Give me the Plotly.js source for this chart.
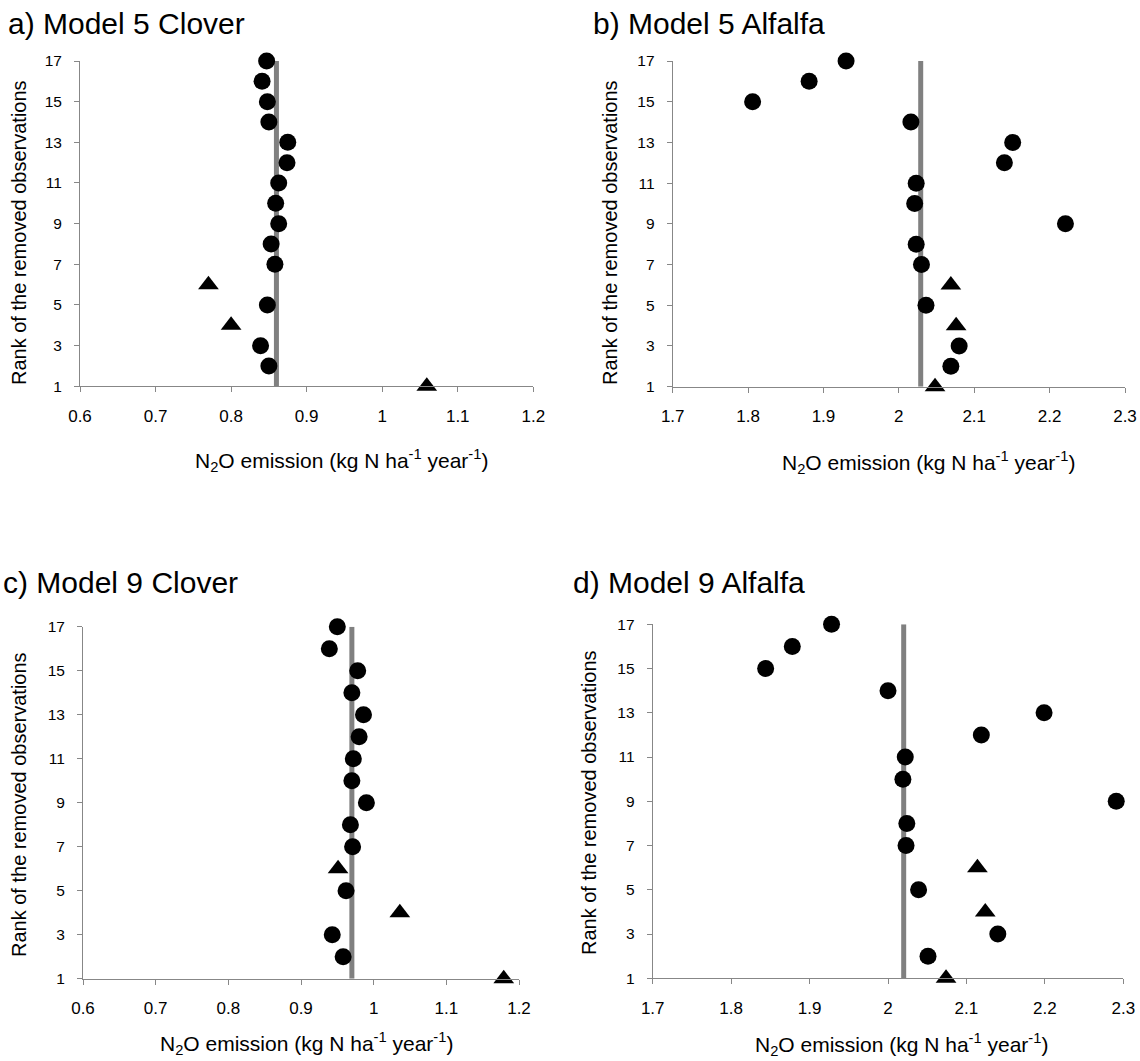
<!DOCTYPE html>
<html>
<head>
<meta charset="utf-8">
<script src="https://cdn.plot.ly/plotly-3.0.1.min.js"></script>
<style>html,body{margin:0;padding:0;background:#fff;}#chart{width:1140px;height:1061px;}</style>
</head>
<body>
<div id="chart"></div>
<script>
// ---- data ----
const ranks = [1,2,3,4,5,6,7,8,9,10,11,12,13,14,15,16,17];
const triangleRanks = [1,4,6];

const m5Clover  = [1.059,0.850,0.839,0.800,0.848,0.770,0.858,0.853,0.863,0.859,0.863,0.874,0.875,0.850,0.848,0.841,0.847];
const m5Alfalfa = [2.048,2.069,2.080,2.076,2.036,2.069,2.030,2.023,2.221,2.021,2.023,2.140,2.151,2.016,1.806,1.881,1.930];
const m9Clover  = [1.179,0.958,0.943,1.036,0.962,0.951,0.971,0.968,0.990,0.970,0.972,0.980,0.986,0.970,0.978,0.939,0.950];
const m9Alfalfa = [2.074,2.051,2.140,2.124,2.039,2.114,2.023,2.024,2.291,2.019,2.022,2.119,2.199,2.000,1.844,1.878,1.928];

const refValues = [0.860, 2.029, 0.970, 2.020];   // full-data estimate (grey line)

const panelTitles = ["a) Model 5 Clover","b) Model 5 Alfalfa","c) Model 9 Clover","d) Model 9 Alfalfa"];
const cloverTicks = [0.6,0.7,0.8,0.9,1.0,1.1,1.2];
const cloverTickText = ["0.6","0.7","0.8","0.9","1","1.1","1.2"];
const alfalfaTicks = [1.7,1.8,1.9,2.0,2.1,2.2,2.3];
const alfalfaTickText = ["1.7","1.8","1.9","2","2.1","2.2","2.3"];
const yTicks = [1,3,5,7,9,11,13,15,17];
const yTickText = ["1","3","5","7","9","11","13","15","17"];
const yTitle = "Rank of the removed observations";
const xTitle = "N<sub>2</sub>O emission (kg N ha<sup>-1</sup> year<sup>-1</sup>)";

// ---- layout geometry (pixels) ----
const W = 1140, H = 1061;
const boxes = [
  {x0:80,   x1:533.3, y0:61,    y1:386.3},
  {x0:672.7,x1:1125,  y0:61,    y1:386.7},
  {x0:83,   x1:519,   y0:626.7, y1:978.8},
  {x0:652.7,x1:1123.3,y0:624.3, y1:978.3}
];
const titlePos = [{x:6,y:23},{x:591,y:23},{x:1,y:582},{x:571,y:582}];
const yTitlePos = [{x:19,y:233},{x:610,y:233},{x:19,y:805},{x:589,y:803}];
const xTitlePos = [{x:341,y:461},{x:928,y:462},{x:306,y:1043},{x:901,y:1044}];

const series = [m5Clover, m5Alfalfa, m9Clover, m9Alfalfa];
const xr = [[0.6,1.2],[1.7,2.3],[0.6,1.2],[1.7,2.3]];
const xt = [cloverTicks, alfalfaTicks, cloverTicks, alfalfaTicks];
const xtt = [cloverTickText, alfalfaTickText, cloverTickText, alfalfaTickText];

const FONT = "Liberation Sans, Arial, sans-serif";
const traces = [];
const layout = {
  width: W, height: H,
  margin: {l:0, r:0, t:0, b:0},
  paper_bgcolor: "#ffffff", plot_bgcolor: "#ffffff",
  showlegend: false,
  font: {family: FONT, color: "#000000"},
  annotations: []
};

const fx = p => p / W;
const fy = p => 1 - p / H;

series.forEach((vals, i) => {
  const n = i + 1;
  const xa = "x" + (n === 1 ? "" : n), ya = "y" + (n === 1 ? "" : n);
  const b = boxes[i];
  // reference line
  traces.push({
    type: "scatter", mode: "lines", xaxis: xa, yaxis: ya,
    x: [refValues[i], refValues[i]], y: [ranks[0], ranks[ranks.length-1]],
    line: {color: "#808080", width: 5}, hoverinfo: "skip", cliponaxis: false
  });
  // points
  traces.push({
    type: "scatter", mode: "markers", xaxis: xa, yaxis: ya,
    x: vals, y: ranks, cliponaxis: false,
    marker: {
      color: "#000000", opacity: 1,
      size: ranks.map(r => triangleRanks.includes(r) ? 18 : 17),
      symbol: ranks.map(r => triangleRanks.includes(r) ? "triangle-up" : "circle"),
      line: {width: 0}
    }
  });
  const axCommon = {
    showgrid: false, zeroline: false, showline: true,
    linecolor: "#878787", linewidth: 1,
    ticks: "outside", ticklen: 5, tickwidth: 1, tickcolor: "#878787",
    fixedrange: true
  };
  layout["xaxis" + (n === 1 ? "" : n)] = Object.assign({}, axCommon, {
    domain: [fx(b.x0), fx(b.x1)], anchor: ya, range: xr[i],
    tickfont: {family: FONT, size: 17, color: "#000000"},
    tickmode: "array", tickvals: xt[i], ticktext: xtt[i], ticklabelstandoff: 9
  });
  layout["yaxis" + (n === 1 ? "" : n)] = Object.assign({}, axCommon, {
    domain: [fy(b.y1), fy(b.y0)], anchor: xa, range: [1, 17],
    tickfont: {family: FONT, size: 15.5, color: "#000000"},
    tickmode: "array", tickvals: yTicks, ticktext: yTickText, ticklabelstandoff: 9
  });
  layout.annotations.push({
    text: panelTitles[i], xref: "paper", yref: "paper",
    x: fx(titlePos[i].x), y: fy(titlePos[i].y), xanchor: "left", yanchor: "middle",
    showarrow: false, font: {family: FONT, size: 30, color: "#000000"}
  });
  layout.annotations.push({
    text: yTitle, xref: "paper", yref: "paper", textangle: -90,
    x: fx(yTitlePos[i].x), y: fy(yTitlePos[i].y), xanchor: "center", yanchor: "middle",
    showarrow: false, font: {family: FONT, size: 20, color: "#000000"}
  });
  layout.annotations.push({
    text: xTitle, xref: "paper", yref: "paper",
    x: fx(xTitlePos[i].x), y: fy(xTitlePos[i].y), xanchor: "center", yanchor: "middle",
    showarrow: false, font: {family: FONT, size: 21, color: "#000000"}
  });
});

Plotly.newPlot("chart", traces, layout, {displayModeBar: false, staticPlot: true});
</script>
</body>
</html>
